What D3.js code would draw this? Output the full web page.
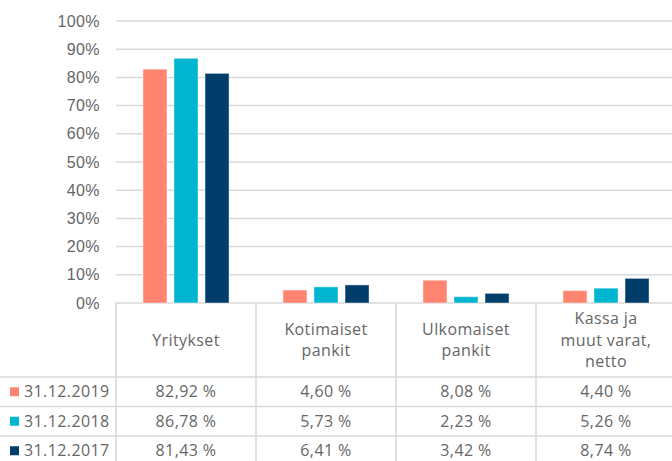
<!DOCTYPE html>
<html lang="fi">
<head>
<meta charset="UTF-8">
<title>Sijoitukset</title>
<script src="https://d3js.org/d3.v7.min.js"></script>
<style>
  body { margin: 0; padding: 0; background: #fff; }
  svg { display: block; font-family: "Open Sans", sans-serif; }
  .lbl { fill: #666666; font-size: 16px; letter-spacing: 0.4px; }
</style>
</head>
<body>
<script>
// data
var categories = ["Yritykset", "Kotimaiset pankit", "Ulkomaiset pankit", "Kassa ja muut varat, netto"];
var headerLines = [["Yritykset"], ["Kotimaiset", "pankit"], ["Ulkomaiset", "pankit"], ["Kassa ja", "muut varat,", "netto"]];
var seriesNames = ["31.12.2019", "31.12.2018", "31.12.2017"];
var values2019 = [82.92, 4.60, 8.08, 4.40];
var values2018 = [86.78, 5.73, 2.23, 5.26];
var values2017 = [81.43, 6.41, 3.42, 8.74];
var yTicks = [0, 0.1, 0.2, 0.3, 0.4, 0.5, 0.6, 0.7, 0.8, 0.9, 1];
var colors = ["#FF8570", "#00B5D0", "#003D6A"];

var seriesValues = [values2019, values2018, values2017];

var width = 672, height = 461;
var plotLeft = 116, plotRight = 676, plotTop = 21, plotBottom = 303;
var headerBottom = 377, rowH = 29.5;

var svg = d3.select("body").append("svg")
    .attr("width", width)
    .attr("height", height);

var y = d3.scaleLinear().domain([0, 1]).range([plotBottom, plotTop]);

var x0 = d3.scaleBand()
    .domain(categories)
    .range([plotLeft, plotRight])
    .paddingInner(0.385)
    .paddingOuter(0.1925);

var x1 = d3.scaleBand()
    .domain(seriesNames)
    .range([0, x0.bandwidth()])
    .paddingInner(0.226);

var grid = "#D9D9D9";

// gridlines
svg.append("g").selectAll("line")
    .data(yTicks)
    .enter().append("line")
    .attr("x1", plotLeft).attr("x2", plotRight)
    .attr("y1", function (d) { return y(d); })
    .attr("y2", function (d) { return y(d); })
    .attr("stroke", grid)
    .attr("stroke-width", 1.5);

// y axis labels
var yAxis = svg.append("g")
    .attr("transform", "translate(100,0)")
    .call(d3.axisLeft(y).tickValues(yTicks).tickSize(0).tickPadding(0).tickFormat(d3.format(".0%")));
yAxis.select(".domain").remove();
yAxis.selectAll("text").attr("class", "lbl").attr("font-family", null).attr("font-size", null);

// bars
var groups = svg.append("g").selectAll("g")
    .data(categories)
    .enter().append("g")
    .attr("transform", function (d) { return "translate(" + x0(d) + ",0)"; });

groups.selectAll("rect")
    .data(function (d, i) {
        return seriesNames.map(function (s, j) { return { s: s, v: seriesValues[j][i] / 100, j: j }; });
    })
    .enter().append("rect")
    .attr("x", function (d) { return x1(d.s); })
    .attr("width", x1.bandwidth())
    .attr("y", function (d) { return y(d.v); })
    .attr("height", function (d) { return y(0) - y(d.v); })
    .attr("fill", function (d) { return colors[d.j]; })
    .attr("stroke", "#fff")
    .attr("stroke-opacity", 0.45)
    .attr("stroke-width", 1);

// data table
var colEdges = categories.map(function (c) { return x0(c) - x0.step() * x0.paddingInner() / 2; });
var tableBottom = height;

var tbl = svg.append("g");
colEdges.forEach(function (cx) {
    tbl.append("line")
        .attr("x1", cx).attr("x2", cx)
        .attr("y1", plotBottom).attr("y2", tableBottom)
        .attr("stroke", grid).attr("stroke-width", 1.5);
});
seriesNames.forEach(function (s, j) {
    var ly = headerBottom + j * rowH;
    tbl.append("line")
        .attr("x1", 0).attr("x2", width)
        .attr("y1", ly).attr("y2", ly)
        .attr("stroke", grid).attr("stroke-width", 1.5);
});

// header texts
categories.forEach(function (c, i) {
    var cx = x0(c) + x0.bandwidth() / 2;
    var lines = headerLines[i];
    var mid = (plotBottom + headerBottom) / 2;
    var lh = 21.5;
    lines.forEach(function (t, k) {
        tbl.append("text")
            .attr("class", "lbl")
            .attr("x", cx)
            .attr("y", mid + (k - (lines.length - 1) / 2) * lh)
            .attr("dy", "0.35em")
            .attr("text-anchor", "middle")
            .text(t);
    });
});

var fi = d3.formatLocale({ decimal: ",", thousands: " ", grouping: [3], currency: ["", " €"] });
var fmt = fi.format(".2f");

// rows: legend keys + values
seriesNames.forEach(function (s, j) {
    var cy = headerBottom + j * rowH + rowH / 2;
    tbl.append("rect")
        .attr("x", 10).attr("y", cy - 4.5)
        .attr("width", 9).attr("height", 9)
        .attr("fill", colors[j]);
    tbl.append("text")
        .attr("class", "lbl")
        .attr("x", 24).attr("y", cy)
        .attr("dy", "0.35em")
        .text(s);
    categories.forEach(function (c, i) {
        tbl.append("text")
            .attr("class", "lbl")
            .attr("x", x0(c) + x0.bandwidth() / 2)
            .attr("y", cy)
            .attr("dy", "0.35em")
            .attr("text-anchor", "middle")
            .text(fmt(seriesValues[j][i]) + " %");
    });
});
</script>
</body>
</html>
